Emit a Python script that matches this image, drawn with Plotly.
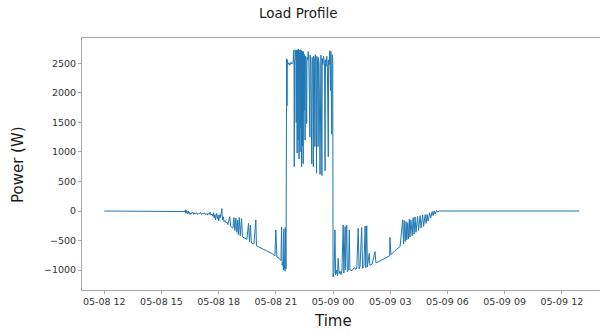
import plotly.graph_objects as go

# ---- data ----
# each segment: list of (time of day, power in W)
afternoon_0508 = [
    ("12:00", 0), ("16:10", 0),
    ("16:14", -10), ("16:15", 20), ("16:17", -40), ("16:18", 10), ("16:20", -30), ("16:22", -50),
    ("16:24", 0), ("16:26", -40), ("16:28", -20), ("16:30", -60), ("16:33", -30), ("16:36", -45),
    ("16:39", -20), ("16:42", -55), ("16:45", -35), ("16:48", -50), ("16:51", -30), ("16:54", -60),
    ("16:57", -40), ("17:00", -45), ("17:03", -25), ("17:06", -60), ("17:09", -40), ("17:12", -50),
    ("17:15", -30), ("17:18", -60), ("17:21", -45), ("17:24", -70), ("17:27", -40), ("17:30", -60),
    ("17:33", -20), ("17:36", -70), ("17:39", -50), ("17:42", -90), ("17:44", -30), ("17:46", -120),
    ("17:48", -60), ("17:50", -150), ("17:52", -80), ("17:54", -40), ("17:56", -130), ("17:58", -70),
    ("18:00", -170), ("18:02", -90), ("18:04", -60), ("18:06", -110), ("18:08", -30), ("18:10", 40),
    ("18:11", -60), ("18:13", -150), ("18:15", -100), ("18:17", -180), ("18:20", -160), ("18:23", -200),
    ("18:26", -190), ("18:29", -230),
]
evening_0508 = [
    ("18:35", -96), ("18:38", -260), ("18:45", -290), ("18:48", -110), ("18:51", -330), ("18:54", -120),
    ("18:57", -360), ("19:00", -150), ("19:02", -400), ("19:05", -110), ("19:08", -420), ("19:12", -125),
    ("19:15", -440), ("19:23", -460), ("19:29", -480), ("19:34", -210), ("19:37", -520), ("19:40", -240),
    ("19:43", -540), ("19:51", -560), ("19:57", -150), ("19:59", -590), ("20:10", -620), ("20:22", -650),
    ("20:35", -690), ("20:48", -720), ("20:57", -760), ("21:00", -320), ("21:03", -780), ("21:10", -800),
    ("21:16", -840), ("21:18", -270), ("21:20", -920), ("21:22", -870), ("21:24", -1000), ("21:25", -300),
    ("21:27", -950), ("21:29", -1020), ("21:30", -280), ("21:32", -980),
]
peak_0508 = [
    ("21:34", 2580), ("21:35", 1780), ("21:36", 2560), ("21:38", 2480), ("21:41", 2510), ("21:44", 2470),
    ("21:47", 2520), ("21:51", 2490), ("21:54", 2500), ("21:57", 2730), ("21:58", 750), ("21:59", 2520),
    ("22:01", 2600), ("22:03", 2730), ("22:04", 1500), ("22:05", 2720), ("22:06", 2620), ("22:07", 980),
    ("22:08", 2730), ("22:09", 2680), ("22:10", 1200), ("22:11", 2740), ("22:12", 2620), ("22:13", 880),
    ("22:14", 2720), ("22:15", 2650), ("22:16", 1000), ("22:17", 2730), ("22:18", 2600), ("22:19", 1400),
    ("22:20", 2720), ("22:21", 750), ("22:22", 2700), ("22:23", 2630), ("22:24", 1100), ("22:25", 2710),
    ("22:26", 800), ("22:27", 2690), ("22:28", 2580), ("22:29", 1700), ("22:30", 2650), ("22:32", 1200),
    ("22:33", 2620), ("22:35", 2540), ("22:37", 1480), ("22:38", 2600), ("22:40", 2560), ("22:42", 2700),
    ("22:44", 2520), ("22:47", 1250), ("22:48", 2640), ("22:50", 2500), ("22:53", 800), ("22:54", 2600),
    ("22:56", 2540), ("22:58", 750), ("22:59", 2620), ("23:00", 1030), ("23:01", 2580), ("23:03", 1090),
    ("23:04", 2650), ("23:06", 2480), ("23:08", 640), ("23:09", 2620), ("23:11", 2540), ("23:13", 1090),
    ("23:14", 2600), ("23:16", 2500), ("23:19", 620), ("23:20", 2560), ("23:22", 2640), ("23:25", 600),
    ("23:26", 2580), ("23:28", 2480), ("23:30", 2620), ("23:33", 2500), ("23:35", 680), ("23:36", 2560),
    ("23:38", 2450), ("23:40", 2620), ("23:42", 2500), ("23:45", 920), ("23:46", 2560), ("23:48", 2480),
    ("23:50", 2715), ("23:52", 2040), ("23:53", 2700), ("23:56", 1300), ("23:57", 2650), ("23:59", 2600),
]
night_0509 = [
    ("00:00", -1115), ("00:03", -1050), ("00:06", -320), ("00:08", -1080), ("00:11", -1000), ("00:14", -1100),
    ("00:16", -800), ("00:19", -1060), ("00:22", -1020), ("00:25", -1080), ("00:28", -1000), ("00:32", -236),
    ("00:34", -1050), ("00:38", -264), ("00:39", -1000), ("00:43", -240), ("00:45", -1030), ("00:49", -980),
    ("00:51", -320), ("00:53", -1000), ("01:00", -1010), ("01:06", -960), ("01:12", -990), ("01:15", -950),
    ("01:19", -293), ("01:22", -980), ("01:25", -940), ("01:30", -280), ("01:33", -970), ("01:37", -940),
    ("01:41", -253), ("01:43", -960), ("01:46", -250), ("01:48", -950), ("01:54", -715), ("01:56", -920),
    ("02:03", -900), ("02:12", -687), ("02:15", -880), ("02:28", -850), ("02:44", -800), ("02:58", -760),
    ("02:59", -445), ("03:02", -740), ("03:15", -670), ("03:31", -602), ("03:39", -150), ("03:42", -560),
    ("03:44", -160), ("03:47", -518), ("03:50", -180), ("03:52", -490), ("03:55", -200), ("03:57", -470),
    ("04:00", -140), ("04:02", -440), ("04:05", -150), ("04:09", -420), ("04:12", -110), ("04:15", -390),
    ("04:18", -100), ("04:21", -360), ("04:26", -90), ("04:29", -330), ("04:34", -80), ("04:37", -290),
    ("04:42", -70), ("04:45", -260), ("04:50", -60), ("04:53", -210), ("04:56", -60), ("04:59", -170),
    ("05:04", -30), ("05:07", -120), ("05:12", -10), ("05:15", -80), ("05:18", 0), ("05:21", -50),
    ("05:26", 10), ("05:29", -20), ("05:34", 0), ("12:55", 0),
]

x_tick_vals = ["2019-05-08 12:00", "2019-05-08 15:00", "2019-05-08 18:00", "2019-05-08 21:00",
               "2019-05-09 00:00", "2019-05-09 03:00", "2019-05-09 06:00", "2019-05-09 09:00",
               "2019-05-09 12:00"]
x_tick_text = ["05-08 12", "05-08 15", "05-08 18", "05-08 21", "05-09 00",
               "05-09 03", "05-09 06", "05-09 09", "05-09 12"]
y_tick_vals = [-1000, -500, 0, 500, 1000, 1500, 2000, 2500]
y_tick_text = ["\u22121000", "\u2212500", "0", "500", "1000", "1500", "2000", "2500"]

# ---- build series ----
times, power = [], []
for day, seg in [("2019-05-08", afternoon_0508), ("2019-05-08", evening_0508),
                 ("2019-05-08", peak_0508), ("2019-05-09", night_0509)]:
    for t, p in seg:
        times.append(f"{day} {t}")
        power.append(p)

FONT = "DejaVu Sans"
AX = "#a8a8a8"

# plot area in page pixels: x 82..600, y 38..290
L, T, B = 82, 38, 290
W_PLOT = 600 - L
H_PLOT = B - T

fig = go.Figure(go.Scatter(x=times, y=power, mode="lines",
                           line=dict(color="#1f77b4", width=1), hoverinfo="skip"))

fig.update_layout(
    width=600, height=334,
    margin=dict(l=L, r=0, t=T, b=334 - B, pad=0, autoexpand=False),
    paper_bgcolor="white", plot_bgcolor="white",
    showlegend=False,
    font=dict(family=FONT, color="#333333"),
    xaxis=dict(type="date", range=["2019-05-08 10:50", "2019-05-09 14:00"],
               tickmode="array", tickvals=x_tick_vals, ticktext=x_tick_text,
               tickfont=dict(size=9.5, color="#333333"), automargin=False,
               showgrid=False, zeroline=False, showline=True, linecolor=AX, linewidth=1,
               mirror=True, ticks="outside", ticklen=3, tickcolor=AX),
    yaxis=dict(range=[-1338, 2930], tickmode="array", tickvals=y_tick_vals, ticktext=y_tick_text,
               tickfont=dict(size=9.5, color="#333333"), automargin=False,
               showgrid=False, zeroline=False, showline=True, linecolor=AX, linewidth=1,
               mirror=False, ticks="outside", ticklen=3, tickcolor=AX),
    annotations=[
        dict(text="Load Profile", xref="paper", yref="paper", x=(298 - L) / W_PLOT, y=(B - 13) / H_PLOT,
             xanchor="center", yanchor="middle", showarrow=False,
             font=dict(family=FONT, size=13.5, color="#1a1a1a")),
        dict(text="Power (W)", xref="paper", yref="paper", x=(18 - L) / W_PLOT, y=(B - 165) / H_PLOT,
             xanchor="center", yanchor="middle", textangle=-90, showarrow=False,
             font=dict(family=FONT, size=15, color="#1a1a1a")),
        dict(text="Time", xref="paper", yref="paper", x=(333 - L) / W_PLOT, y=(B - 321) / H_PLOT,
             xanchor="center", yanchor="middle", showarrow=False,
             font=dict(family=FONT, size=15, color="#1a1a1a")),
    ],
)

fig.write_html("out.html", config={"displayModeBar": False, "staticPlot": True},
               post_script="document.body.style.margin='0px';")
